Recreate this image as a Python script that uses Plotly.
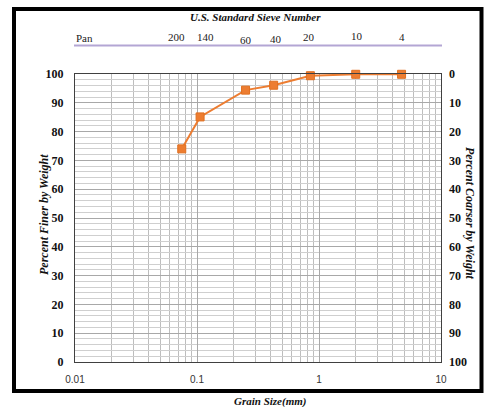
import plotly.graph_objects as go
import math

# ---- data ----
grain_size_mm = [0.075, 0.106, 0.25, 0.425, 0.85, 2.0, 4.75]
percent_finer = [74.0, 85.1, 94.4, 96.1, 99.4, 99.9, 99.9]

sieve_labels = ["200", "140", "60", "40", "20", "10", "4"]
sieve_size_mm = [0.075, 0.106, 0.25, 0.425, 0.85, 2.0, 4.75]
sieve_label_shift = [-5, 5, 0, 2, -1, 1, 0]
sieve_label_drop = [0, 0, 3, 2, 0, -1, 0]

x_ticks = [0.01, 0.1, 1, 10]
x_tick_text = ["0.01", "0.1", "1", "10"]
y_ticks = list(range(0, 101, 10))

# ---- layout helpers (pixel geometry of the frame) ----
W, H = 485, 407
L, R, T, B = 75, 441, 74, 362
pw, ph = R - L, B - T


def px(xp):
    return (xp - L) / pw


def py(yp):
    return (B - yp) / ph


serif = "Liberation Serif"
fig = go.Figure()

fig.add_trace(go.Scatter(
    x=grain_size_mm, y=percent_finer, mode="lines+markers",
    line=dict(color="#ED7D31", width=2),
    marker=dict(symbol="square", size=8, color="#ED7D31",
                line=dict(color="#E07020", width=1)),
    showlegend=False, cliponaxis=False,
))
# invisible trace for secondary axis
fig.add_trace(go.Scatter(x=[0.01], y=[0], yaxis="y2", mode="markers",
                         marker=dict(opacity=0), showlegend=False,
                         hoverinfo="skip"))

fig.update_layout(
    width=W, height=H,
    margin=dict(l=L, r=W - R, t=T, b=H - B),
    paper_bgcolor="white", plot_bgcolor="white",
    xaxis=dict(
        type="log", range=[-2, 1],
        tickvals=x_ticks, ticktext=x_tick_text,
        tickfont=dict(family="Liberation Sans", size=10, color="#333"),
        showgrid=True, gridcolor="#a8a8a8", gridwidth=1,
        minor=dict(dtick="D1", showgrid=True, gridcolor="#bdbdbd",
                   gridwidth=1, ticks=""),
        showline=True, linecolor="#404040", linewidth=1, mirror=True,
        ticks="", ticklabelstandoff=8, zeroline=False,
    ),
    yaxis=dict(
        range=[0, 100], tickvals=y_ticks,
        tickfont=dict(family=serif, size=12, color="#111", weight="bold"),
        showgrid=True, gridcolor="#a8a8a8", gridwidth=1,
        minor=dict(dtick=2, showgrid=True, gridcolor="#cfcfcf",
                   gridwidth=1, ticks=""),
        showline=True, linecolor="#404040", linewidth=1, mirror=True,
        ticks="", ticklabelstandoff=8, zeroline=False,
    ),
    yaxis2=dict(
        range=[100, 0], overlaying="y", side="right",
        tickvals=y_ticks,
        tickfont=dict(family=serif, size=12, color="#111", weight="bold"),
        showgrid=False, zeroline=False, ticks="", ticklabelstandoff=7,
        showline=False,
    ),
)

ann = []
ann.append(dict(text="<b><i>U.S. Standard Sieve Number</i></b>",
                xref="paper", yref="paper", x=px(255), y=py(17),
                showarrow=False, font=dict(family=serif, size=11, color="#111"),
                xanchor="center", yanchor="middle"))
ann.append(dict(text="Pan", xref="paper", yref="paper", x=px(74), y=py(38),
                showarrow=False, font=dict(family=serif, size=11, color="#222"),
                xanchor="left", yanchor="middle"))
for lab, s, sh, dr in zip(sieve_labels, sieve_size_mm, sieve_label_shift,
                          sieve_label_drop):
    ann.append(dict(text=lab, xref="x", yref="paper", x=math.log10(s),
                    y=py(37 + dr), xshift=sh, showarrow=False,
                    font=dict(family=serif, size=11, color="#222"),
                    xanchor="center", yanchor="middle"))
ann.append(dict(text="<b><i>Percent Finer by Weight</i></b>",
                xref="paper", yref="paper", x=px(44), y=py(215),
                textangle=-90, showarrow=False,
                font=dict(family=serif, size=12, color="#111"),
                xanchor="center", yanchor="middle"))
ann.append(dict(text="<b><i>Percent Coarser by Weight</i></b>",
                xref="paper", yref="paper", x=px(470), y=py(213),
                textangle=90, showarrow=False,
                font=dict(family=serif, size=12, color="#111"),
                xanchor="center", yanchor="middle"))
ann.append(dict(text="<b><i>Grain Size(mm)</i></b>",
                xref="paper", yref="paper", x=px(270), y=py(401),
                showarrow=False, font=dict(family=serif, size=11, color="#111"),
                xanchor="center", yanchor="middle"))
fig.update_layout(annotations=ann)

fig.update_layout(shapes=[
    dict(type="line", xref="paper", yref="paper",
         x0=px(74), x1=px(442), y0=py(45.5), y1=py(45.5),
         line=dict(color="#b3a6d4", width=2)),
    dict(type="rect", xref="paper", yref="paper",
         x0=px(14), x1=px(481.5), y0=py(9), y1=py(391),
         line=dict(color="black", width=4), layer="above"),
])

fig.write_html("out.html")
